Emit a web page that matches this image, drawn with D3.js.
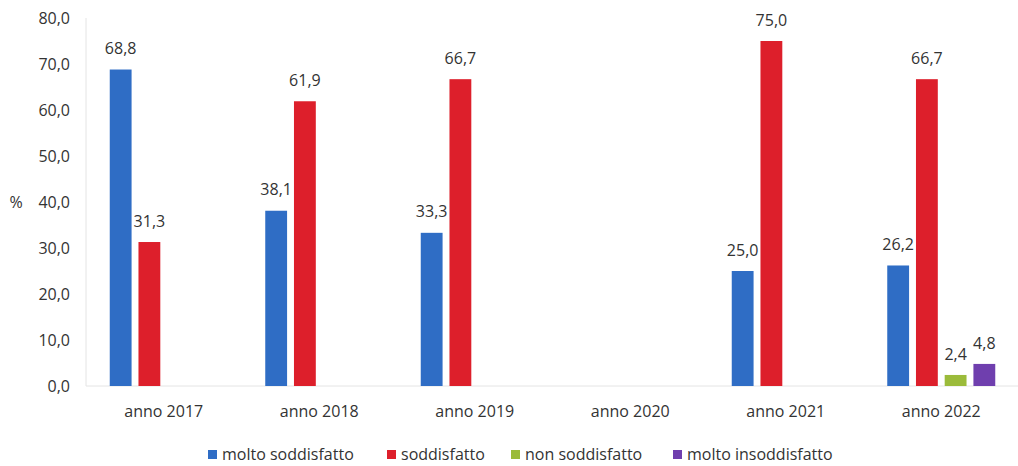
<!DOCTYPE html>
<html>
<head>
<meta charset="utf-8">
<title>Soddisfazione</title>
<script src="https://cdn.jsdelivr.net/npm/d3@7"></script>
<style>
  body { margin: 0; background: #fff; }
  text { font-family: "Open Sans", Lato, sans-serif; fill: #333; }
</style>
</head>
<body>
<div id="chart"></div>
<script>
// data
var years = ["anno 2017", "anno 2018", "anno 2019", "anno 2020", "anno 2021", "anno 2022"];
var series = ["molto soddisfatto", "soddisfatto", "non soddisfatto", "molto insoddisfatto"];
var moltoSodd = [68.8, 38.1, 33.3, null, 25.0, 26.2];
var sodd      = [31.3, 61.9, 66.7, null, 75.0, 66.7];
var nonSodd   = [null, null, null, null, null, 2.4];
var moltoInsodd = [null, null, null, null, null, 4.8];
var yTicks = [0, 10, 20, 30, 40, 50, 60, 70, 80];
var colors = ["#2f6dc5", "#dd1f2b", "#9bbb3a", "#6f3fae"];

var values = [moltoSodd, sodd, nonSodd, moltoInsodd];

var width = 1018, height = 466;
var svg = d3.select("#chart").append("svg")
  .attr("width", width).attr("height", height);

var x = d3.scaleBand().domain(years).range([86, 1019]);
var xs = d3.scaleBand().domain(series).range([0, 108]).paddingInner(0.24);
var y = d3.scaleLinear().domain([0, 80]).range([386, 18]);

var fmt = function(v) { return d3.format(".1f")(v).replace(".", ","); };

// axis lines
svg.append("line").attr("x1", 86).attr("x2", 86).attr("y1", 18).attr("y2", 386)
  .attr("stroke", "#e4e4e4");
svg.append("line").attr("x1", 86).attr("x2", 1019).attr("y1", 386).attr("y2", 386)
  .attr("stroke", "#e4e4e4");

// y tick labels
svg.selectAll(".ytick").data(yTicks).enter().append("text")
  .attr("x", 70).attr("y", function(d) { return y(d); })
  .attr("dy", "0.35em").attr("text-anchor", "end")
  .attr("font-size", 16).text(fmt);

svg.append("text").attr("x", 16).attr("y", 202).attr("dy", "0.35em")
  .attr("text-anchor", "middle").attr("font-size", 16).text("%");

// x labels
svg.selectAll(".xlab").data(years).enter().append("text")
  .attr("x", function(d) { return x(d) + x.bandwidth() / 2; })
  .attr("y", 411).attr("dy", "0.35em").attr("text-anchor", "middle")
  .attr("font-size", 16).text(function(d) { return d; });

// bars
series.forEach(function(s, si) {
  var pts = years.map(function(yr, i) { return { yr: yr, v: values[si][i] }; })
    .filter(function(d) { return d.v != null; });
  var off = function(d) { return x(d.yr) + x.bandwidth() / 2 - 54 + xs(s); };
  svg.selectAll(".bar" + si).data(pts).enter().append("rect")
    .attr("x", off).attr("width", xs.bandwidth())
    .attr("y", function(d) { return y(d.v); })
    .attr("height", function(d) { return y(0) - y(d.v); })
    .attr("fill", colors[si]);
  svg.selectAll(".lab" + si).data(pts).enter().append("text")
    .attr("x", function(d) { return off(d) + xs.bandwidth() / 2; })
    .attr("y", function(d) { return y(d.v) - 21; })
    .attr("dy", "0.35em").attr("text-anchor", "middle")
    .attr("font-size", 16).text(function(d) { return fmt(d.v); });
});

// legend
var legX = [208, 387, 511, 673];
var leg = svg.selectAll(".leg").data(series).enter().append("g")
  .attr("transform", function(d, i) { return "translate(" + legX[i] + ",450)"; });
leg.append("rect").attr("width", 9).attr("height", 9)
  .attr("fill", function(d, i) { return colors[i]; });
leg.append("text").attr("x", 14).attr("y", 4).attr("dy", "0.35em")
  .attr("font-size", 16).text(function(d) { return d; });
</script>
</body>
</html>
